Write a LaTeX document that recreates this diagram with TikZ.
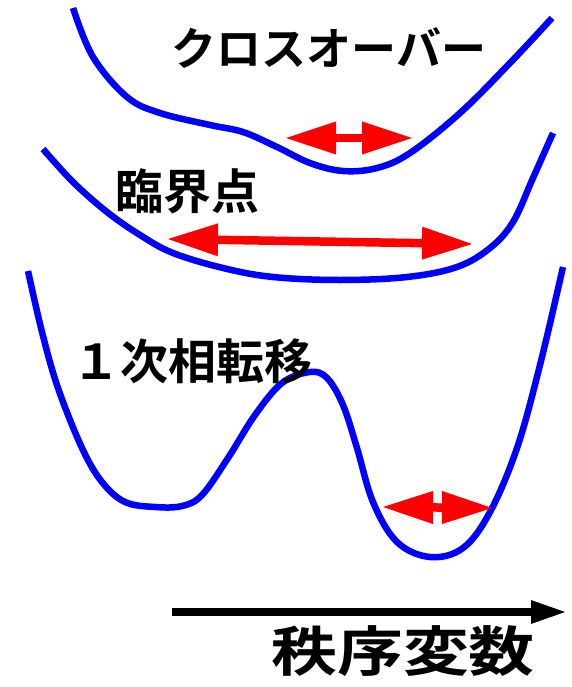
\documentclass[tikz,border=0pt]{standalone}
\usepackage{fontspec}
\newfontfamily\jp{Noto Sans CJK JP}[BoldFont={Noto Sans CJK JP Bold}]
\usetikzlibrary{arrows.meta}
\definecolor{pblue}{RGB}{0,0,255}
\definecolor{pred}{RGB}{255,0,0}
\tikzset{
  potential/.style={draw=pblue, line width=6.5pt, line join=round},
  osc/.style={draw=pred, line width=8.5pt,
    {Triangle[length=50pt,width=33pt,line width=0pt]}-{Triangle[length=50pt,width=33pt,line width=0pt]}},
  axisarrow/.style={draw=black, line width=7.5pt, -{Triangle[length=34pt,width=24pt,line width=0pt]}},
  label/.style={inner sep=0pt, font=\jp\bfseries\fontsize{48pt}{48pt}\selectfont},
}
\begin{document}
\begin{tikzpicture}[x=1pt,y=-1pt]
\useasboundingbox (0,0) rectangle (572,687);
\fill[white] (0,0) rectangle (572,687);
% curves
\draw[potential] plot[smooth, tension=0.6] coordinates {(73,8) (93,57) (127,97) (160,113) (210,125) (243,132) (277,147) (310,163) (343,171) (377,168) (410,153) (460,113) (510,63) (552,18)};
\draw[potential] plot[smooth, tension=0.6] coordinates {(43,149) (73,182) (107,212) (140,235) (173,253) (223,268) (273,277) (340,280) (407,277) (457,267) (490,248) (513,222) (533,178) (553,133)};
\draw[potential] plot[smooth, tension=0.6] coordinates {(28,271) (42,332) (58,388) (82,448) (102,482) (125,502) (155,507) (182,506) (202,495) (228,458) (255,415) (282,383) (310,372) (327,378) (343,405) (357,448) (373,502) (397,542) (430,557) (463,548) (490,512) (517,448) (540,365) (563,267)};
% labels
\node[label, font=\jp\bfseries\fontsize{45pt}{45pt}\selectfont] (cross) at (329,48) {クロスオーバー};
\node[label] (crit) at (187,191) {臨界点};
\node[label] (first) at (192,361) {１次相転移};
\node[label, font=\jp\bfseries\fontsize{54pt}{54pt}\selectfont, xscale=1.22] (order) at (403,651) {秩序変数};
% red arrows
\coordinate (a1l) at (286,138); \coordinate (a1r) at (412,138);
\coordinate (a2l) at (168,239); \coordinate (a2r) at (472,244);
\coordinate (a3l) at (383,507); \coordinate (a3r) at (492,508);
\draw[osc] (a1l) -- (a1r);
\draw[osc] (a2l) -- (a2r);
\draw[osc] (a3l) -- (a3r);
% axis
\coordinate (ax0) at (172,612); \coordinate (ax1) at (565,612);
\draw[axisarrow] (ax0) -- (ax1);
\end{tikzpicture}
\end{document}
